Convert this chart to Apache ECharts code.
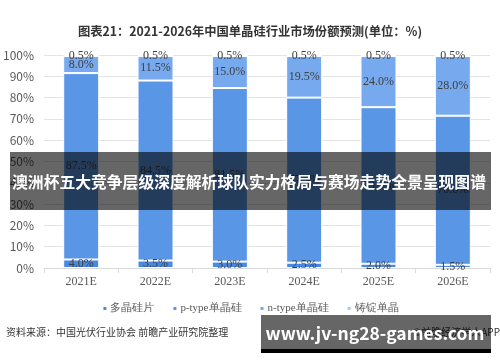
<!DOCTYPE html>
<html><head><meta charset="utf-8">
<script src="https://cdn.jsdelivr.net/npm/echarts@6/dist/echarts.min.js"></script>
<style>html,body{margin:0;padding:0;background:#fff}#c{width:500px;height:362px}</style>
</head><body><div id="c"></div>
<script>
const categories = ['2021E','2022E','2023E','2024E','2025E','2026E'];
const seriesNames = ['多晶硅片','p-type单晶硅','n-type单晶硅','铸锭单晶'];
const polySi = [4.0, 3.5, 3.0, 2.5, 2.0, 1.5];
const pType = [87.5, 84.5, 81.5, 77.5, 73.5, 70.0];
const nType = [8.0, 11.5, 15.0, 19.5, 24.0, 28.0];
const castMono = [0.5, 0.5, 0.5, 0.5, 0.5, 0.5];
const yTicks = ['0%','10%','20%','30%','40%','50%','60%','70%','80%','90%','100%'];
const colors = ['#4a89e2','#5a96e6','#76a9ee','#a8c9f4'];

const chart = echarts.init(document.getElementById('c'));
const serif = '"Liberation Serif","DejaVu Serif",serif';
const sans = '"Noto Sans CJK SC","Noto Sans",sans-serif';
function mk(i, data){
  return {
    name: seriesNames[i], type:'bar', stack:'s', data:data, barWidth:36,
    itemStyle:{color:colors[i], borderColor:'#fff', borderWidth:1},
    label:{show:true, position:'inside', formatter:p=>p.value.toFixed(1)+'%',
      color:'#404040', fontSize:12, fontFamily:serif},
    emphasis:{disabled:true}
  };
}
chart.setOption({
  animation:false,
  title:{text:'图表21：2021-2026年中国单晶硅行业市场份额预测(单位：%)', left:'center', top:20,
    textStyle:{fontSize:12.3, fontWeight:'bold', color:'#333', fontFamily:sans}},
  grid:{left:40, right:10, top:55, bottom:94, containLabel:false},
  legend:{bottom:43, left:'center', itemWidth:5, itemHeight:5, itemGap:17, icon:'rect',
    textStyle:{fontSize:11, color:'#595959', fontFamily:serif, padding:[0,0,0,-2]}, data:seriesNames},
  xAxis:{type:'category', data:categories,
    axisLine:{lineStyle:{color:'#d9d9d9'}}, axisTick:{show:true, lineStyle:{color:'#d9d9d9'}},
    axisLabel:{color:'#595959', fontSize:12, fontFamily:serif, margin:8}},
  yAxis:{type:'value', min:0, max:100, interval:10,
    axisLabel:{formatter:v=>yTicks[v/10], color:'#595959', fontSize:12, fontFamily:sans, margin:10},
    splitLine:{lineStyle:{color:'#e3e3e3'}}, axisLine:{show:false}, axisTick:{show:false}},
  series:[mk(0,polySi), mk(1,pType), mk(2,nType), mk(3,castMono)],
  graphic:[
    {type:'text', left:6, top:327, style:{text:'资料来源：中国光伏行业协会 前瞻产业研究院整理', fontSize:10, fill:'#333', fontFamily:sans}},
    {type:'text', right:0, top:327, style:{text:'©前瞻经济学人APP', fontSize:10, fill:'#333', fontFamily:sans}},
    {type:'rect', shape:{x:10, y:152, width:481, height:58}, style:{fill:'rgba(0,0,0,0.6)'}, z:100},
    {type:'text', x:249, y:182, z:101, style:{text:'澳洲杯五大竞争层级深度解析球队实力格局与赛场走势全景呈现图谱', fontSize:15.8, fontWeight:'bold', fill:'#fff', fontFamily:sans, align:'center', verticalAlign:'middle'}},
    {type:'rect', shape:{x:261, y:315, width:230, height:34}, style:{fill:'rgba(0,0,0,0.6)'}, z:100},
    {type:'rect', shape:{x:261, y:349, width:230, height:4}, style:{fill:'#000'}, z:100},
    {type:'text', x:375, y:333, z:101, style:{text:'www.jv-ng28-games.com', fontSize:17.5, fontWeight:'bold', fill:'#fff', fontFamily:sans, align:'center', verticalAlign:'middle'}}
  ]
});
</script></body></html>
